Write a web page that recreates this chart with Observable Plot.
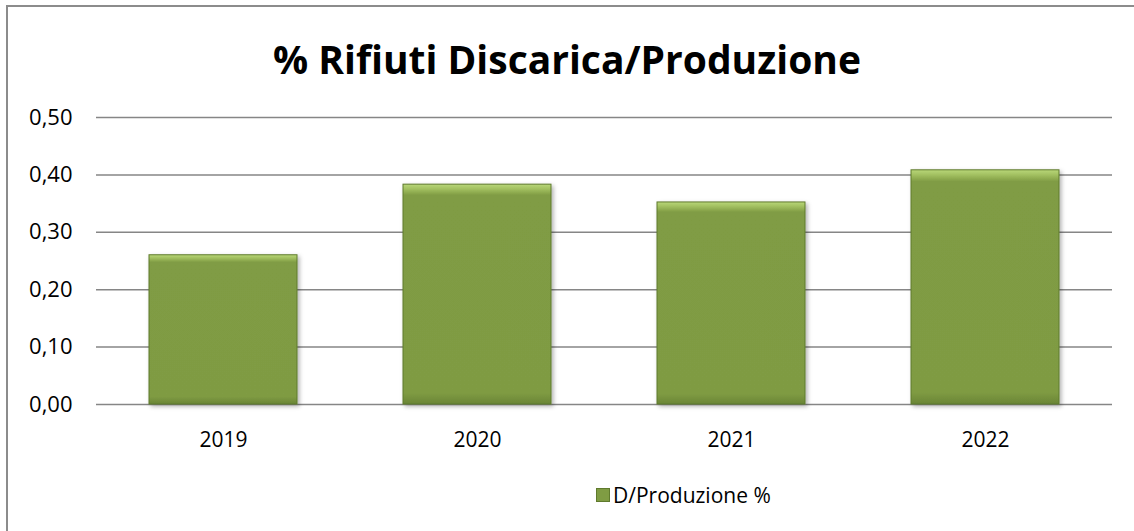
<!DOCTYPE html>
<html>
<head>
<meta charset="utf-8">
<script src="https://cdn.jsdelivr.net/npm/d3@7"></script>
<script src="https://cdn.jsdelivr.net/npm/@observablehq/plot@0.6"></script>
<style>
  body { margin: 0; background: #fff; font-family: "Open Sans", sans-serif; }
  #wrap { position: relative; width: 1134px; height: 531px; overflow: hidden; background: #fff; }
  #frame { position: absolute; left: 6px; top: 5px; width: 1140px; height: 540px; border: 2px solid #8c8c8c; box-sizing: border-box; }
  #title { position: absolute; left: 0; width: 1134px; top: 36px; text-align: center; font-weight: 700; font-size: 39px; color: #000; line-height: 1.2; }
  #chart { position: absolute; left: 0; top: 0; }
  #legend { position: absolute; left: 596px; top: 481px; font-size: 21px; color: #000; display: flex; align-items: center; }
  #legend .sw { width: 12px; height: 12px; background: #7f9c43; border: 1px solid #5f7a2d; margin-right: 3px; }
</style>
</head>
<body>
<div id="wrap">
  <div id="frame"></div>
  <div id="chart"></div>
  <div id="title">% Rifiuti Discarica/Produzione</div>
  <div id="legend"><span class="sw"></span><span id="legendText"></span></div>
</div>
<script>
const years = ["2019", "2020", "2021", "2022"];
const values = [0.26, 0.383, 0.352, 0.408];
const yTicks = [0, 0.1, 0.2, 0.3, 0.4, 0.5];
const seriesName = "D/Produzione %";

document.getElementById("legendText").textContent = seriesName;

const data = years.map((y, i) => ({year: y, value: values[i]}));
const fmt = v => v.toFixed(2).replace(".", ",");

const plot = Plot.plot({
  width: 1134,
  height: 531,
  marginTop: 117,
  marginBottom: 127,
  marginLeft: 96,
  marginRight: 22,
  style: {fontFamily: "Open Sans, sans-serif", fontSize: "21px", color: "#000", background: "transparent"},
  x: {domain: years, paddingInner: 0.417, paddingOuter: 0.2085, label: null},
  y: {domain: [0, 0.5], ticks: yTicks, label: null},
  marks: [
    Plot.gridY(yTicks, {stroke: "#868686", strokeOpacity: 1, strokeWidth: 1.5}),
    Plot.barY(data, {x: "year", y: "value", fill: "url(#barGrad)", stroke: "#5f7a2d", strokeWidth: 1}),
    Plot.axisY(yTicks, {tickSize: 0, tickPadding: 24, tickFormat: fmt, fontSize: 22, label: null}),
    Plot.axisX({tickSize: 0, tickPadding: 28, fontSize: 21, label: null})
  ]
});

const svg = d3.select(plot);
const defs = svg.insert("defs", ":first-child");
const g = defs.append("linearGradient").attr("id", "barGrad").attr("x1", 0).attr("x2", 0).attr("y1", 0).attr("y2", 1);
g.append("stop").attr("offset", "0%").attr("stop-color", "#b9d77a");
g.append("stop").attr("offset", "2%").attr("stop-color", "#a4c262");
g.append("stop").attr("offset", "5%").attr("stop-color", "#809c44");
g.append("stop").attr("offset", "95%").attr("stop-color", "#7f9b43");
g.append("stop").attr("offset", "100%").attr("stop-color", "#6a8535");
const f = defs.append("filter").attr("id", "shadow").attr("x", "-10%").attr("y", "-10%").attr("width", "130%").attr("height", "130%");
f.append("feDropShadow").attr("dx", 2).attr("dy", 2).attr("stdDeviation", 2).attr("flood-color", "#000").attr("flood-opacity", 0.3);
svg.selectAll("g[aria-label='bar'] rect").attr("filter", "url(#shadow)");

document.getElementById("chart").appendChild(plot);
</script>
</body>
</html>
